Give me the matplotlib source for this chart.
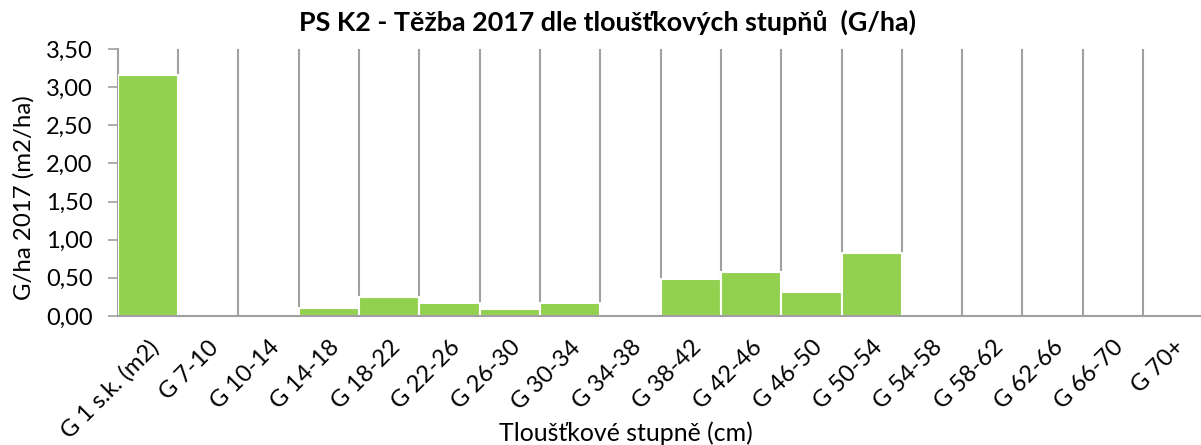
import numpy as np
import matplotlib.pyplot as plt
from matplotlib.ticker import FixedLocator, FuncFormatter

categories = ["G 1 s.k. (m2)", "G 7-10", "G 10-14", "G 14-18", "G 18-22", "G 22-26",
              "G 26-30", "G 30-34", "G 34-38", "G 38-42", "G 42-46", "G 46-50",
              "G 50-54", "G 54-58", "G 58-62", "G 62-66", "G 66-70", "G 70+"]
values = [3.16, 0, 0, 0.11, 0.25, 0.17, 0.09, 0.17, 0, 0.49, 0.58, 0.32, 0.83,
          0, 0, 0, 0, 0]

plt.rcParams['font.family'] = ['Lato', 'DejaVu Sans']

fig = plt.figure(figsize=(12.01, 4.45), dpi=100)
ax = fig.add_axes([0.098, 0.29, 0.904, 0.60])

x = np.arange(len(categories))
ax.bar(x, values, width=1.0, color='#92D050', edgecolor='white', linewidth=1.5, zorder=3)

ax.set_xlim(-0.5, len(categories) - 0.5)
ax.set_ylim(0, 3.5)
ax.set_yticks(np.arange(0, 3.51, 0.5))
ax.yaxis.set_major_formatter(FuncFormatter(lambda v, p: f"{v:.2f}".replace('.', ',')))

# category labels at 45 degrees, grid lines between categories
ax.set_xticks(x)
ax.set_xticklabels(categories, rotation=45, ha='right', va='top',
                   rotation_mode='anchor', fontsize=17)
ax.xaxis.set_minor_locator(FixedLocator(np.arange(0.5, len(categories) - 1, 1.0)))
ax.grid(True, which='minor', axis='x', color='#A0A0A0', linewidth=1.5, zorder=0)
ax.tick_params(axis='x', which='both', length=0, pad=15)
ax.tick_params(axis='y', labelsize=17, length=7, width=1.2, color='#A0A0A0', pad=11)

for s in ['top', 'right']:
    ax.spines[s].set_visible(False)
ax.spines['left'].set_color('#A0A0A0')
ax.spines['bottom'].set_color('#A0A0A0')
ax.spines['left'].set_linewidth(1.5)
ax.spines['bottom'].set_linewidth(1.5)
ax.spines['bottom'].set_zorder(4)

fig.text(0.020, 0.555, "G/ha 2017 (m2/ha)", rotation=90, ha='center', va='center', fontsize=17.3)
fig.text(0.521, 0.027, "Tloušťkové stupně (cm)", ha='center', va='center', fontsize=17.9)
fig.text(0.506, 0.95, "PS K2 - Těžba 2017 dle tloušťkových stupňů  (G/ha)",
         ha='center', va='center', fontsize=19.4, fontweight='bold')

plt.savefig('out.png', dpi=100)
